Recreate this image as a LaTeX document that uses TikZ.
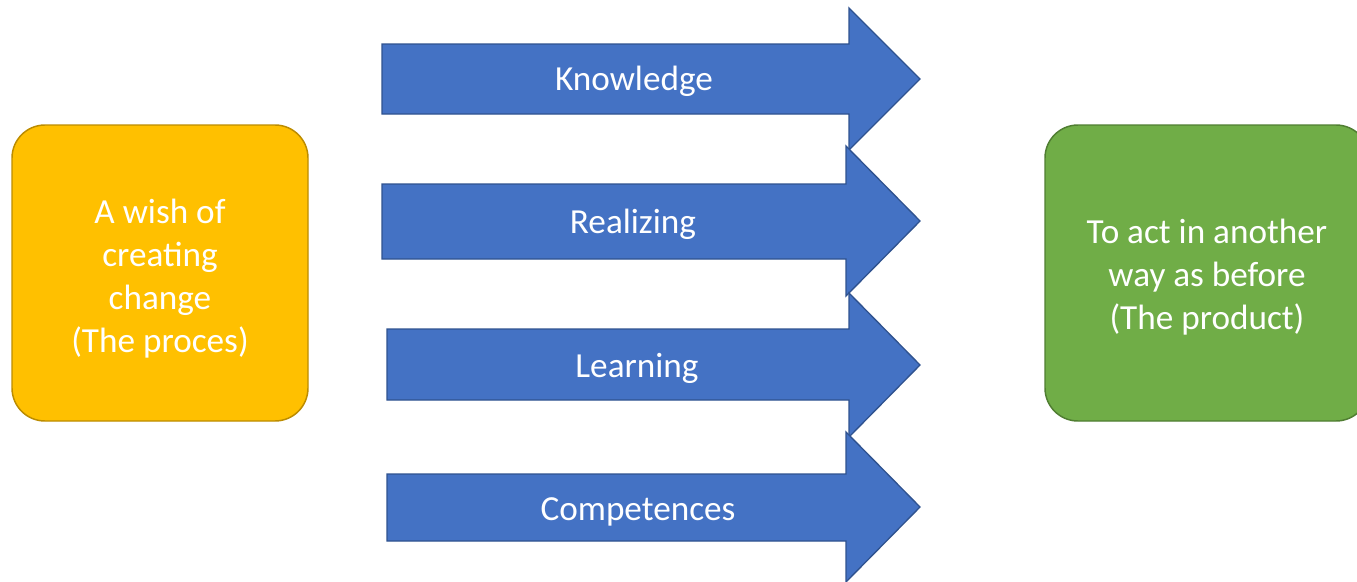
\documentclass[tikz,border=0pt]{standalone}
\usepackage{fontspec}
\setmainfont{Carlito}
\definecolor{arrowblue}{HTML}{4472C4}
\definecolor{arrowedge}{HTML}{2F528F}
\definecolor{boxorange}{HTML}{FFC000}
\definecolor{orangeedge}{HTML}{BC8C00}
\definecolor{boxgreen}{HTML}{70AD47}
\definecolor{greenedge}{HTML}{507E32}
\begin{document}
\begin{tikzpicture}[x=0.75pt,y=-0.75pt,
  blockarrow/.style={fill=arrowblue,draw=arrowedge,line width=1pt,line join=miter},
  arrowlabel/.style={text=white,font=\fontsize{26.4}{32.25}\selectfont,anchor=base,inner sep=0pt},
  roundbox/.style={rounded corners=24.75pt,line width=1.1pt,minimum height=222pt,text=white,align=center,font=\fontsize{26.4}{32.25}\selectfont,inner sep=0pt}]
\useasboundingbox (0,0) rectangle (1357,582);
\fill[white] (0,0) rectangle (1357,582);
\node[roundbox,fill=boxorange,draw=orangeedge,minimum width=222pt] (wish) at (160,273) {\rule{0pt}{26pt}A wish of\\creating\\change\\(The proces)};
\node[roundbox,fill=boxgreen,draw=greenedge,minimum width=243pt] (act) at (1207,273) {\rule{0pt}{24pt}To act in another\\way as before\\(The product)};
\draw[blockarrow] (382,44) -- (849,44) -- (849,8) -- (920,79) -- (849,150) -- (849,114) -- (382,114) -- cycle;
\draw[blockarrow] (382,184) -- (846,184) -- (846,146) -- (920,221) -- (846,296) -- (846,259) -- (382,259) -- cycle;
\draw[blockarrow] (387,329) -- (849,329) -- (849,293) -- (920,365) -- (849,437) -- (849,400) -- (387,400) -- cycle;
\draw[blockarrow] (387,474) -- (846,474) -- (846,432) -- (920,507) -- (846,582) -- (846,541) -- (387,541) -- cycle;
\node[arrowlabel] (know) at (634,90.7) {Knowledge};
\node[arrowlabel] (real) at (633,233) {Realizing};
\node[arrowlabel] (learn) at (637,377) {Learning};
\node[arrowlabel] (comp) at (638,520) {Competences};
\end{tikzpicture}
\end{document}
